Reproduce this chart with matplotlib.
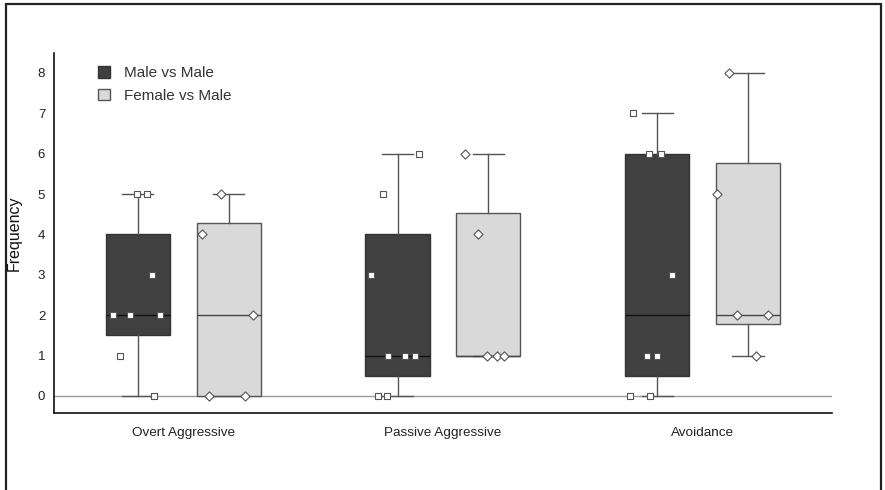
import matplotlib
matplotlib.use('Agg')
import matplotlib.pyplot as plt
from matplotlib.patches import Patch, Rectangle

plt.rcParams['font.family'] = ['Liberation Sans', 'DejaVu Sans']

categories = ['Overt Aggressive', 'Passive Aggressive', 'Avoidance']
series = ['Male vs Male', 'Female vs Male']

# box statistics
male_lo = [0, 0, 0]
male_q1 = [1.5, 0.5, 0.5]
male_med = [2, 1, 2]
male_q3 = [4, 4, 6]
male_hi = [5, 6, 7]

female_lo = [0, 1, 1]
female_q1 = [0, 1, 1.78]
female_med = [2, 1, 2]
female_q3 = [4.29, 4.53, 5.78]
female_hi = [5, 6, 8]

# raw observations drawn over the boxes
male_points = [
    [5, 5, 3, 2, 2, 2, 1, 0],
    [6, 5, 3, 1, 1, 1, 0, 0],
    [7, 6, 6, 3, 1, 1, 0, 0],
]
female_points = [
    [5, 4, 2, 0, 0],
    [6, 4, 1, 1, 1],
    [8, 5, 2, 2, 1],
]

# horizontal jitter of each point as it appears in the picture
male_jitter = [
    [-0.005, 0.035, 0.054, -0.096, -0.031, 0.085, -0.068, 0.062],
    [0.084, -0.055, -0.101, -0.035, 0.027, 0.066, -0.076, -0.040],
    [-0.093, -0.033, 0.014, 0.056, -0.040, -0.002, -0.106, -0.027],
]
female_jitter = [
    [-0.029, -0.103, 0.094, -0.078, 0.063],
    [-0.091, -0.041, -0.007, 0.034, 0.062],
    [-0.073, -0.120, -0.042, 0.077, 0.031],
]

male_color = '#404040'
female_color = '#d9d9d9'
offset = 0.175
box_w = 0.247


def make_stats(lo, q1, med, q3, hi):
    out = []
    for i in range(len(lo)):
        out.append({'whislo': lo[i], 'q1': q1[i], 'med': med[i],
                    'q3': q3[i], 'whishi': hi[i], 'fliers': []})
    return out


fig = plt.figure(figsize=(8.85, 4.9), dpi=100)
ax = fig.add_axes([0.0605, 0.1565, 0.88, 0.7359])

# frame round the figure
fig.patches.append(Rectangle((0.0068, -0.05), 0.9887, 1.042, transform=fig.transFigure,
                             fill=False, edgecolor='#222222', linewidth=1.6))

ax.axhline(0, color='#999999', linewidth=1.0, zorder=1)

pos = list(range(len(categories)))
male_pos = [p - offset for p in pos]
female_pos = [p + offset for p in pos]

ax.bxp(make_stats(male_lo, male_q1, male_med, male_q3, male_hi), positions=male_pos,
       widths=box_w, patch_artist=True, showfliers=False, capwidths=0.12,
       boxprops=dict(facecolor=male_color, edgecolor='#333333', linewidth=1.0),
       medianprops=dict(color='#111111', linewidth=1.0),
       whiskerprops=dict(color='#555555', linewidth=1.0),
       capprops=dict(color='#555555', linewidth=1.0), zorder=2)

ax.bxp(make_stats(female_lo, female_q1, female_med, female_q3, female_hi), positions=female_pos,
       widths=box_w, patch_artist=True, showfliers=False, capwidths=0.12,
       boxprops=dict(facecolor=female_color, edgecolor='#555555', linewidth=1.0),
       medianprops=dict(color='#444444', linewidth=1.0),
       whiskerprops=dict(color='#555555', linewidth=1.0),
       capprops=dict(color='#555555', linewidth=1.0), zorder=2)

for i in pos:
    xs = [male_pos[i] + j for j in male_jitter[i]]
    ax.scatter(xs, male_points[i], marker='s', s=22, facecolor='white',
               edgecolor='#555555', linewidth=0.8, zorder=4)
    xs = [female_pos[i] + j for j in female_jitter[i]]
    ax.scatter(xs, female_points[i], marker='D', s=22, facecolor='white',
               edgecolor='#555555', linewidth=0.8, zorder=4)

ax.set_xlim(-0.5, 2.5)
ax.set_ylim(-0.43, 8.5)
ax.set_xticks(pos)
ax.set_xticklabels(categories)
ax.set_yticks(range(0, 9))
ax.tick_params(axis='both', length=0, colors='#222222')
ax.tick_params(axis='x', pad=10, labelsize=9.7)
ax.tick_params(axis='y', pad=6, labelsize=9.5)
ax.set_ylabel('Frequency', fontsize=11.5, color='#111111')
ax.yaxis.set_label_coords(-0.041, 0.5)

for s in ['top', 'right']:
    ax.spines[s].set_visible(False)
for s in ['left', 'bottom']:
    ax.spines[s].set_color('#111111')
    ax.spines[s].set_linewidth(1.2)

handles = [Patch(facecolor=male_color, edgecolor='#333333', label=series[0]),
           Patch(facecolor=female_color, edgecolor='#555555', label=series[1])]
leg = ax.legend(handles=handles, loc='upper left', bbox_to_anchor=(0.049, 0.98),
                frameon=False, fontsize=11, handlelength=0.78, handleheight=0.78,
                handletextpad=0.93, labelspacing=0.55, borderaxespad=0)
for t in leg.get_texts():
    t.set_color('#333333')

fig.savefig('out.png', dpi=100)
